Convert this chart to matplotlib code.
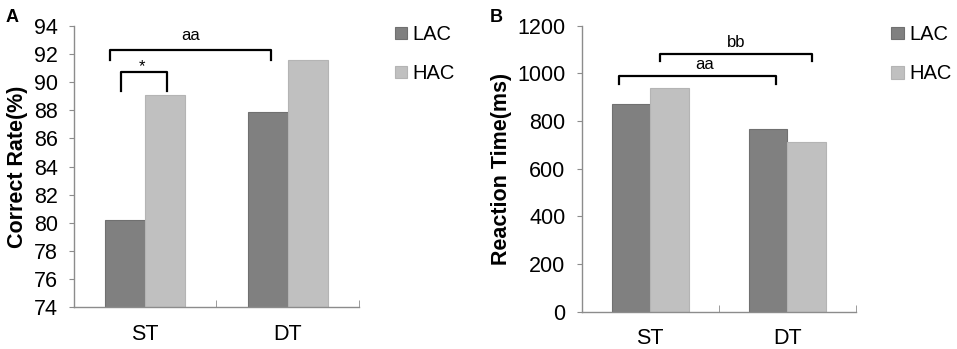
import matplotlib
matplotlib.use("Agg")
import matplotlib.pyplot as plt
import numpy as np

plt.rcParams['font.family'] = ['Liberation Sans', 'DejaVu Sans']

# data
conditions = ["ST", "DT"]
groups = ["LAC", "HAC"]
correct_lac = [80.2, 87.9]
correct_hac = [89.1, 91.6]
rt_lac = [873, 765]
rt_hac = [940, 713]

# significance brackets: (x0, x1, leg bottom, top, label, label x, label y)
brackets_a = [(-0.17, 0.15, 89.4, 90.7, "*", -0.02, 90.55),
              (-0.25, 0.88, 91.6, 92.3, "aa", 0.32, 92.8)]
brackets_b = [(-0.23, 0.92, 954, 989, "aa", 0.40, 1005),
              (0.07, 1.18, 1052, 1080, "bb", 0.63, 1100)]

dark = "#808080"
light = "#c0c0c0"
spine_col = "#8c8c8c"

fig = plt.figure(figsize=(9.57, 3.49), dpi=100)
axA = fig.add_axes([0.0773, 0.1203, 0.2978, 0.8052])
axB = fig.add_axes([0.6078, 0.1069, 0.2866, 0.8195])

x = np.arange(len(conditions))
w = 0.28


def draw(ax, lac, hac, ylim, yticks, ylabel, brackets, leg_anchor):
    ax.bar(x - w / 2, lac, w, color=dark, edgecolor="#707070", linewidth=0.8,
           label=groups[0])
    ax.bar(x + w / 2, hac, w, color=light, edgecolor="#b4b4b4", linewidth=0.8,
           label=groups[1])
    ax.set_xlim(-0.5, 1.5)
    ax.set_ylim(*ylim)
    ax.set_yticks(yticks)
    ax.tick_params(axis="y", labelsize=15.5, length=3.6, color=spine_col, pad=8)
    ax.set_xticks(x)
    ax.set_xticklabels(conditions, fontsize=15.5)
    ax.tick_params(axis="x", length=0, pad=12)
    # category boundary ticks, pointing inward
    ax.set_xticks([0.5, 1.5], minor=True)
    ax.tick_params(axis="x", which="minor", direction="in", length=5,
                   color=spine_col)
    for s in ["top", "right"]:
        ax.spines[s].set_visible(False)
    for s in ["left", "bottom"]:
        ax.spines[s].set_color(spine_col)
        ax.spines[s].set_linewidth(1.0)
    ax.set_ylabel(ylabel, fontsize=15.5, fontweight="bold", labelpad=4)
    for x0, x1, yb, yt, lab, lx, ly in brackets:
        ax.plot([x0, x0, x1, x1], [yb, yt, yt, yb], color="black", lw=1.6,
                clip_on=False)
        ax.text(lx, ly, lab, ha="center", va="bottom", fontsize=12)
    ax.legend(loc="upper left", bbox_to_anchor=leg_anchor, frameon=False,
              fontsize=14.5, handlelength=0.6, handleheight=0.6,
              handletextpad=0.3, labelspacing=1.0, borderaxespad=0)


draw(axA, correct_lac, correct_hac, (74, 94), np.arange(74, 95, 2),
     "Correct Rate(%)", brackets_a, (1.097, 1.032))
draw(axB, rt_lac, rt_hac, (0, 1200), np.arange(0, 1201, 200),
     "Reaction Time(ms)", brackets_b, (1.10, 1.03))

fig.text(0.006, 0.975, "A", fontsize=13, fontweight="bold", va="top")
fig.text(0.512, 0.975, "B", fontsize=13, fontweight="bold", va="top")

fig.savefig("out.png", dpi=100)
